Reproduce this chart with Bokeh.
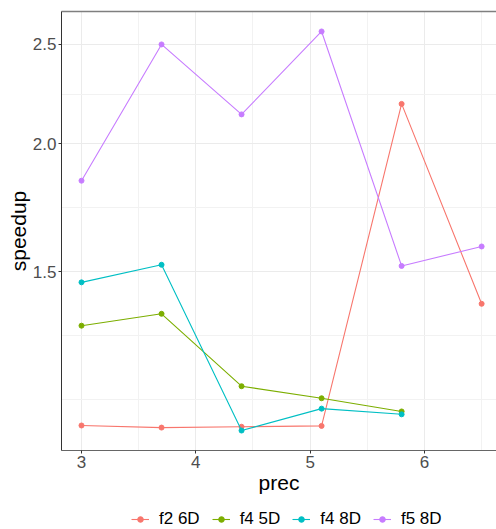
import numpy as np
from bokeh.plotting import figure
from bokeh.layouts import column
from bokeh.models import Legend, LegendItem, FixedTicker, PrintfTickFormatter, Range1d, LinearAxis, ColumnDataSource
from bokeh.embed import file_html
from bokeh.resources import INLINE

# ---- data ----
prec = [3.0, 3.7, 4.4, 5.1, 5.8, 6.5]
f2_6d = [1.061, 1.056, 1.058, 1.060, 2.187, 1.395]
prec_f4 = [3.0, 3.7, 4.4, 5.1, 5.8]
f4_5d = [1.328, 1.364, 1.159, 1.128, 1.095]
f4_8d = [1.464, 1.523, 1.049, 1.102, 1.088]
f5_8d = [1.840, 2.500, 2.136, 2.574, 1.519, 1.587]

series_names = ["f2 6D", "f4 5D", "f4 8D", "f5 8D"]
series_x = [prec, prec_f4, prec_f4, prec]
series_y = [f2_6d, f4_5d, f4_8d, f5_8d]
colors = ["#F8766D", "#7CAE00", "#00BFC4", "#C77CFF"]

x_ticks = [3, 4, 5, 6]
x_minor = [3.5, 4.5, 5.5, 6.5]
y_ticks = [1.5, 2.0, 2.5]

# ---- ranges (ggplot-like 5% expansion, log y) ----
all_y = np.concatenate([np.array(v) for v in series_y])
lo, hi = np.log10(all_y.min()), np.log10(all_y.max())
span = hi - lo
y_range = Range1d(10 ** (lo - 0.05 * span), 10 ** (hi + 0.05 * span))
x_lo = min(prec) - 0.05 * (max(prec) - min(prec))
x_range = Range1d(x_lo, 6.63)

# minor y grid: log-midpoints between majors, extended one interval below
ly = np.log10(y_ticks)
step = ly[1] - ly[0]
ext = np.concatenate([[ly[0] - step], ly])
y_minor = list(10 ** ((ext[:-1] + ext[1:]) / 2)) + [10 ** ext[0]]

W = 496
p = figure(width=W, height=504, x_range=x_range, y_range=y_range,
           y_axis_type="log", output_backend="svg", toolbar_location=None,
           min_border_left=61, min_border_right=0, min_border_top=11, min_border_bottom=54)
p.background_fill_color = "white"
p.border_fill_color = "white"
p.outline_line_color = None

p.xaxis.ticker = FixedTicker(ticks=x_ticks, minor_ticks=x_minor)
p.yaxis.ticker = FixedTicker(ticks=y_ticks, minor_ticks=y_minor)
p.yaxis.formatter = PrintfTickFormatter(format="%.1f")

for ax in (p.xaxis, p.yaxis):
    ax.major_label_text_font = "Liberation Sans"
    ax.major_label_text_font_size = "17px"
    ax.major_label_text_color = "#4d4d4d"
    ax.axis_label_text_font = "Liberation Sans"
    ax.axis_label_text_font_size = "21px"
    ax.axis_label_text_font_style = "normal"
    ax.axis_label_text_color = "black"
    ax.major_tick_in = 0
    ax.major_tick_out = 3
    ax.major_tick_line_color = "#333333"
    ax.minor_tick_line_color = None
p.xaxis.axis_label = "prec"
p.yaxis.axis_label = "speedup"
p.xaxis.axis_line_color = "#666666"
p.yaxis.axis_line_color = "#333333"
p.xaxis.major_label_standoff = 1
p.yaxis.major_label_standoff = 1
p.xaxis.axis_label_standoff = 0
p.yaxis.axis_label_standoff = 0

for g in (p.xgrid, p.ygrid):
    g.grid_line_color = "#EBEBEB"
    g.grid_line_width = 1
    g.minor_grid_line_color = "#F2F2F2"
    g.minor_grid_line_width = 1

# top border
top = LinearAxis(ticker=FixedTicker(ticks=[]), axis_line_color="#7f7f7f", axis_line_width=1.5,
                 major_tick_line_color=None, minor_tick_line_color=None,
                 major_label_text_font_size="0px")
p.add_layout(top, "above")

sources = []
for name, xs, ys, c in zip(series_names, series_x, series_y, colors):
    src = ColumnDataSource(dict(x=xs, y=ys))
    sources.append(src)
    p.line("x", "y", source=src, line_color=c, line_width=1.1)
    p.scatter("x", "y", source=src, size=5, fill_color=c, line_color=c)

# ---- legend strip below the plot (same sources, view kept off the data) ----
lg = figure(width=W, height=25, output_backend="svg", toolbar_location=None,
            x_range=Range1d(-2, -1), y_range=Range1d(-2, -1),
            x_axis_location=None, y_axis_location=None,
            min_border_left=0, min_border_right=0, min_border_top=0, min_border_bottom=0)
lg.outline_line_color = None
lg.grid.visible = False
items = []
for name, src, c in zip(series_names, sources, colors):
    r1 = lg.line("x", "y", source=src, line_color=c, line_width=1.1)
    r2 = lg.scatter("x", "y", source=src, size=4.5, fill_color=c, line_color=c)
    items.append(LegendItem(label=name, renderers=[r1, r2]))

legend = Legend(items=items, orientation="horizontal", location=(70, 0),
                label_text_font="Liberation Sans", label_text_font_size="17px",
                label_text_color="black", glyph_width=18, glyph_height=14,
                label_standoff=10, spacing=12, padding=0, margin=0,
                border_line_color=None, background_fill_alpha=0)
lg.add_layout(legend, "center")

open("out.html", "w").write(file_html(column(p, lg, spacing=0), INLINE))
